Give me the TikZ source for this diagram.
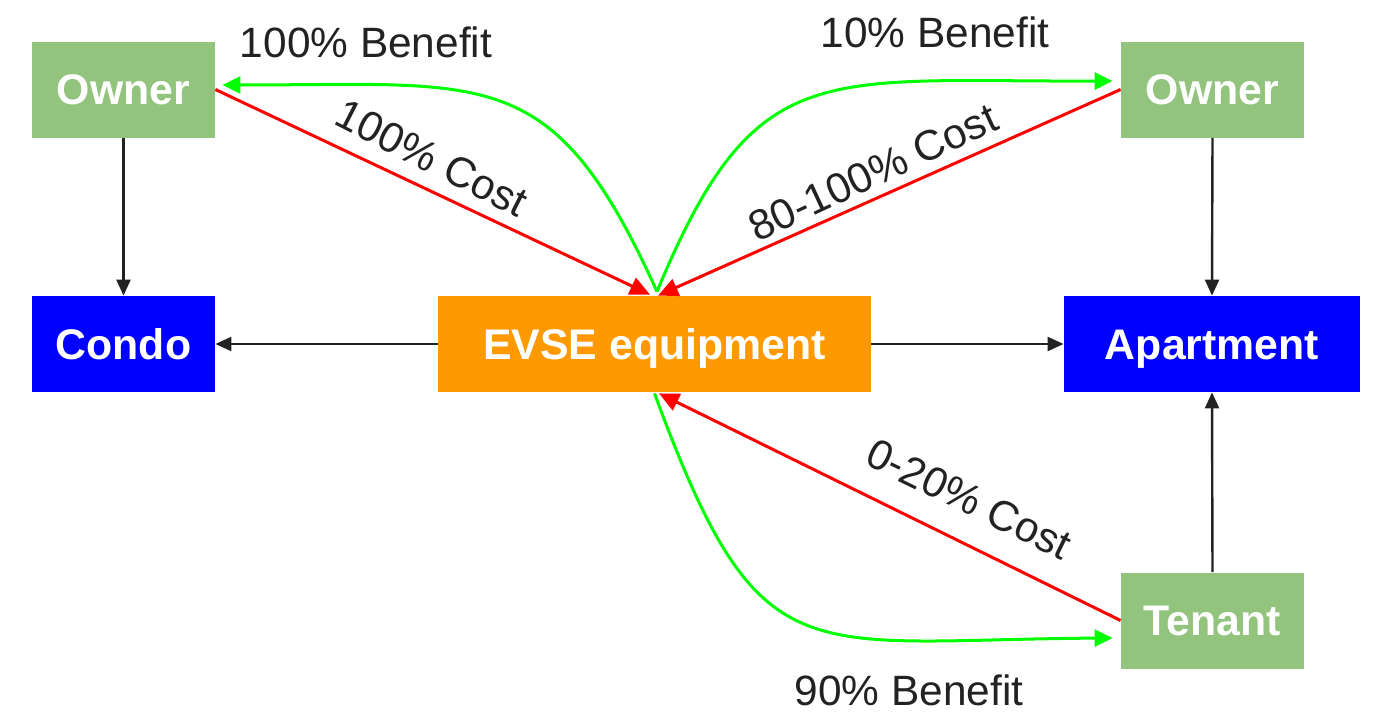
\documentclass[tikz,border=0pt]{standalone}
\usepackage{fontspec}
\setmainfont{Liberation Sans}
\usetikzlibrary{arrows.meta,calc}
\definecolor{boxgreen}{HTML}{93C47D}
\definecolor{boxblue}{HTML}{0000FF}
\definecolor{boxorange}{HTML}{FF9900}
\definecolor{linegreen}{HTML}{00FF00}
\definecolor{linered}{HTML}{FF0000}
\definecolor{txt}{HTML}{222222}
\begin{document}
\begin{tikzpicture}[x=0.5pt,y=-0.5pt,
  box/.style={inner sep=0pt, text=white, font=\bfseries\fontsize{21.4}{24}\selectfont, minimum height=48pt, text height=15.4pt, text depth=0pt},
  greenbox/.style={box, fill=boxgreen, minimum width=91.5pt},
  bluebox/.style={box, fill=boxblue},
  orangebox/.style={box, fill=boxorange},
  lbl/.style={text=txt, font=\fontsize{21.2}{24}\selectfont, inner sep=0pt},
  blk/.style={draw=txt, line width=1.2pt, -{Triangle[length=8pt,width=7pt]}},
  cost/.style={draw=linered, line width=1.5pt, -{Triangle[length=10pt,width=9pt]}},
  benefit/.style={draw=linegreen, line width=1.5pt, -{Triangle[length=9pt,width=8.5pt]}}
]
\useasboundingbox (0,0) rectangle (1373,712);

\node[greenbox] (ownerL) at (123.5,89.5) {Owner};
\node[bluebox, minimum width=91.5pt] (condo) at (123.5,344) {Condo};
\node[orangebox, minimum width=216.5pt] (evse) at (654.5,344) {EVSE equipment};
\node[bluebox, minimum width=148pt] (apt) at (1212,344) {Apartment};
\node[greenbox] (ownerR) at (1212.5,89.5) {Owner};
\node[greenbox] (tenant) at (1212.5,620.5) {Tenant};

% black arrows
\draw[blk] (ownerL.south) -- (condo.north);
\draw[blk] (evse.west) -- (condo.east);
\draw[blk] (evse.east) -- (apt.west);
\draw[blk] (ownerR.south) -- (apt.north);
\draw[blk] (tenant.north) -- (apt.south);

% cost arrows
\draw[cost] (ownerL.east) -- ($(evse.north)+(-4.5,-1)$);
\draw[cost] (ownerR.west) -- ($(evse.north)+(3.5,0)$);
\draw[cost] (tenant.west) -- ($(evse.south)+(4.5,1)$);

% benefit arrows
\draw[benefit] ($(evse.north)+(2.5,-4)$) .. controls (553,62) and (490,85) .. ($(ownerL.east)+(7,-4.5)$);
\draw[benefit] ($(evse.north)+(2.5,-4)$) .. controls (755,55) and (820,82) .. ($(ownerR.west)+(-8,-8.5)$);
\draw[benefit] ($(evse.south)+(0,1)$) .. controls (760,680) and (800,640) .. ($(tenant.west)+(-8,17.5)$);

% labels
\node[lbl] (b1) at (366,42) {100\% Benefit};
\node[lbl] (b2) at (935,32) {10\% Benefit};
\node[lbl] (b3) at (909,690) {90\% Benefit};
\node[lbl, rotate=-27] (c1) at (432,158) {100\% Cost};
\node[lbl, rotate=25] (c2) at (873,172) {80-100\% Cost};
\node[lbl, rotate=-26] (c3) at (969,499) {0-20\% Cost};
\end{tikzpicture}
\end{document}
